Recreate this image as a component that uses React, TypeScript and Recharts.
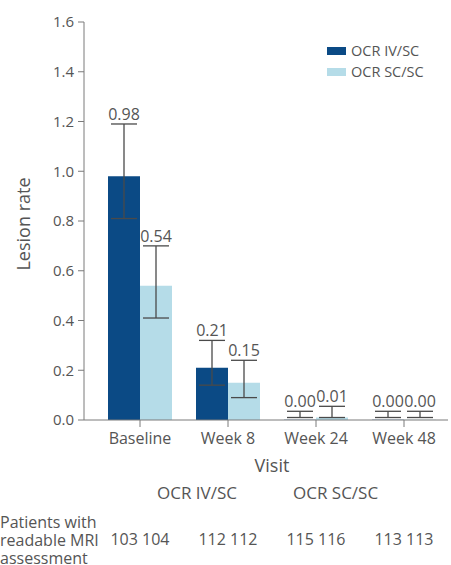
import { ComposedChart, Bar, Line, XAxis, YAxis, ErrorBar, LabelList } from 'recharts'

const visits = ['Baseline', 'Week 8', 'Week 24', 'Week 48']

// "0.00" values are tiny, not exactly zero (bars are invisible, but the CI is drawn)
const ivsc = [0.98, 0.21, 0.001, 0.001]
const ivscLow = [0.81, 0.14, 0.01, 0.01]
const ivscHigh = [1.19, 0.32, 0.035, 0.035]

const scsc = [0.54, 0.15, 0.01, 0.001]
const scscLow = [0.41, 0.09, 0.01, 0.01]
const scscHigh = [0.7, 0.24, 0.055, 0.035]

const ivscN = [103, 112, 115, 113]
const scscN = [104, 112, 116, 113]

const yTicks = [0, 0.2, 0.4, 0.6, 0.8, 1.0, 1.2, 1.4, 1.6]

const DARK = '#0b4a85'
const LIGHT = '#b5dce8'
const AXIS = '#7a7a7a'
const TEXT = '#555'
const FONT = '"Open Sans", sans-serif'

const data = visits.map((visit, i) => ({
  visit,
  iv: ivsc[i],
  ivErr: [ivsc[i] - ivscLow[i], ivscHigh[i] - ivsc[i]],
  ivHigh: ivscHigh[i],
  sc: scsc[i],
  scErr: [scsc[i] - scscLow[i], scscHigh[i] - scsc[i]],
  scHigh: scscHigh[i],
}))

const valueLabel = (values: number[], dx: number) => (props: any) => {
  const { x, y, index } = props
  return (
    <text x={x + dx} y={y - 4} textAnchor="middle" fontSize={16} fill={TEXT} fontFamily={FONT}>
      {values[index].toFixed(2)}
    </text>
  )
}

const CountTick = (props: any) => {
  const { x, y, index } = props
  return (
    <text x={x} y={y + 73} textAnchor="middle" fontSize={16} fill={TEXT} fontFamily={FONT}>
      {`${ivscN[index]} ${scscN[index]}`}
    </text>
  )
}

const YLabel = (props: any) => {
  const { viewBox } = props
  const cx = 23
  const cy = viewBox.y + viewBox.height / 2 + 3
  return (
    <text
      x={cx}
      y={cy}
      transform={`rotate(-90, ${cx}, ${cy})`}
      textAnchor="middle"
      dominantBaseline="central"
      fontSize={18}
      fill={TEXT}
      fontFamily={FONT}
    >
      Lesion rate
    </text>
  )
}

const tableLine = { position: 'absolute' as const, left: 0, fontSize: 16, lineHeight: '14px', whiteSpace: 'nowrap' as const }

export default function App() {
  return (
    <div style={{ position: 'absolute', left: 0, top: 0, width: 451, height: 565, fontFamily: FONT, color: TEXT }}>
      <ComposedChart
        width={451}
        height={565}
        data={data}
        margin={{ top: 22, right: 3, left: 0, bottom: 13 }}
        barGap={0}
        barSize={32}
      >
        <XAxis
          xAxisId="main"
          dataKey="visit"
          height={52}
          padding={{ left: 12, right: 0 }}
          stroke={AXIS}
          tickSize={7}
          tickMargin={6}
          tick={{ fontSize: 16, fill: TEXT, fontFamily: FONT }}
          label={{ value: 'Visit', position: 'insideBottom', offset: 0, dx: 6, fontSize: 18, fill: TEXT, fontFamily: FONT }}
        />
        <XAxis
          xAxisId="n"
          dataKey="visit"
          height={80}
          padding={{ left: 12, right: 0 }}
          axisLine={false}
          tickLine={false}
          tickSize={0}
          tickMargin={0}
          tick={<CountTick />}
        />
        <YAxis
          width={84}
          domain={[0, 1.6]}
          ticks={yTicks}
          stroke={AXIS}
          tickSize={6}
          tickMargin={4}
          tickFormatter={(v: number) => v.toFixed(1)}
          tick={{ fontSize: 15, fill: TEXT, fontFamily: FONT }}
          label={{ content: <YLabel /> }}
        />
        <Bar xAxisId="main" dataKey="iv" fill={DARK} isAnimationActive={false}>
          <ErrorBar dataKey="ivErr" width={13} stroke="#4a4a4a" strokeWidth={1.3} direction="y" />
        </Bar>
        <Bar xAxisId="main" dataKey="sc" fill={LIGHT} isAnimationActive={false}>
          <ErrorBar dataKey="scErr" width={13} stroke="#4a4a4a" strokeWidth={1.3} direction="y" />
        </Bar>
        <Line xAxisId="main" dataKey="ivHigh" stroke="none" dot={false} activeDot={false} legendType="none" isAnimationActive={false}>
          <LabelList dataKey="ivHigh" content={valueLabel(ivsc, -16)} />
        </Line>
        <Line xAxisId="main" dataKey="scHigh" stroke="none" dot={false} activeDot={false} legendType="none" isAnimationActive={false}>
          <LabelList dataKey="scHigh" content={valueLabel(scsc, 16)} />
        </Line>
      </ComposedChart>

      <div style={{ position: 'absolute', left: 327, top: 40, fontSize: 14.5, lineHeight: '21px' }}>
        {[
          { name: 'OCR IV/SC', color: DARK },
          { name: 'OCR SC/SC', color: LIGHT },
        ].map((s) => (
          <div key={s.name} style={{ display: 'flex', alignItems: 'center' }}>
            <span style={{ display: 'inline-block', width: 19, height: 8, background: s.color, marginRight: 5 }} />
            <span>{s.name}</span>
          </div>
        ))}
      </div>

      <div style={{ position: 'absolute', left: 157, top: 482, fontSize: 17, lineHeight: '22px' }}>OCR IV/SC</div>
      <div style={{ position: 'absolute', left: 293, top: 482, fontSize: 17, lineHeight: '22px' }}>OCR SC/SC</div>
      <div style={{ ...tableLine, top: 515 }}>Patients with</div>
      <div style={{ ...tableLine, top: 533 }}>readable MRI</div>
      <div style={{ ...tableLine, top: 551 }}>assessment</div>
    </div>
  )
}
